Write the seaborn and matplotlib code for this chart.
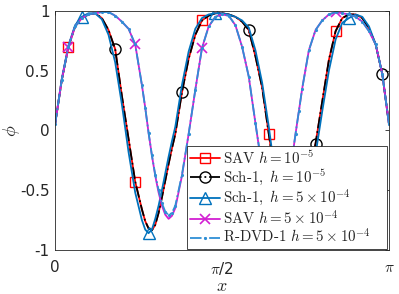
import numpy as np
import pandas as pd
import matplotlib
matplotlib.use("Agg")
import matplotlib.pyplot as plt
import seaborn as sns

# x positions in units of pi
x_over_pi = [0.00, 0.02, 0.04, 0.06, 0.08, 0.10, 0.12, 0.14, 0.16, 0.18, 0.20, 0.22, 0.24, 0.26,
             0.27, 0.28, 0.29, 0.30, 0.31, 0.32, 0.33, 0.34, 0.35, 0.36,
             0.38, 0.40, 0.42, 0.44, 0.46, 0.48, 0.50, 0.52, 0.54, 0.56, 0.58, 0.60, 0.62, 0.64,
             0.65, 0.66, 0.67, 0.68, 0.69, 0.70, 0.71, 0.72, 0.73, 0.74,
             0.76, 0.78, 0.80, 0.82, 0.84, 0.86, 0.88, 0.90, 0.92, 0.94, 0.96, 0.98, 1.00]

# SAV h=1e-5
phi_sav_fine = [0.05, 0.42, 0.70, 0.87, 0.94, 0.97, 0.98, 0.94, 0.84, 0.68, 0.29, -0.07, -0.43, -0.66,
                -0.76, -0.82, -0.835, -0.79, -0.69, -0.56, -0.42, -0.28, -0.15, -0.03,
                0.32, 0.60, 0.80, 0.92, 0.96, 0.98, 0.98, 0.97, 0.95, 0.91, 0.84, 0.62, 0.36, -0.03,
                -0.22, -0.40, -0.55, -0.68, -0.77, -0.82, -0.835, -0.80, -0.72, -0.62,
                -0.38, -0.11, 0.24, 0.59, 0.83, 0.94, 0.97, 0.97, 0.94, 0.85, 0.72, 0.47, 0.05]
# Sch-1 h=1e-5
phi_sch_fine = [0.05, 0.42, 0.70, 0.87, 0.94, 0.97, 0.98, 0.94, 0.84, 0.68, 0.29, -0.07, -0.43, -0.66,
                -0.76, -0.82, -0.835, -0.79, -0.69, -0.56, -0.42, -0.28, -0.15, -0.03,
                0.32, 0.60, 0.80, 0.92, 0.96, 0.98, 0.98, 0.97, 0.95, 0.91, 0.84, 0.62, 0.36, -0.03,
                -0.22, -0.40, -0.55, -0.68, -0.77, -0.82, -0.835, -0.80, -0.72, -0.62,
                -0.38, -0.11, 0.24, 0.59, 0.83, 0.94, 0.97, 0.97, 0.94, 0.85, 0.72, 0.47, 0.05]
# Sch-1 h=5e-4
phi_sch_coarse = [0.05, 0.43, 0.71, 0.88, 0.95, 0.98, 0.98, 0.93, 0.80, 0.57, 0.22, -0.18, -0.52, -0.75,
                  -0.83, -0.86, -0.83, -0.74, -0.63, -0.50, -0.36, -0.22, -0.09, 0.03,
                  0.38, 0.66, 0.85, 0.94, 0.97, 0.98, 0.98, 0.97, 0.95, 0.92, 0.86, 0.67, 0.40, 0.03,
                  -0.18, -0.38, -0.55, -0.68, -0.78, -0.84, -0.855, -0.84, -0.77, -0.68,
                  -0.45, -0.20, 0.16, 0.50, 0.76, 0.90, 0.94, 0.97, 0.95, 0.87, 0.72, 0.47, 0.05]
# SAV h=5e-4
phi_sav_coarse = [0.05, 0.42, 0.70, 0.87, 0.94, 0.97, 0.98, 0.99, 0.99, 0.96, 0.91, 0.85, 0.72, 0.38,
                  0.19, -0.02, -0.21, -0.38, -0.52, -0.63, -0.705, -0.74, -0.715, -0.65,
                  -0.38, -0.03, 0.34, 0.69, 0.87, 0.95, 0.97, 0.96, 0.88, 0.70, 0.45, 0.06, -0.32, -0.60,
                  -0.69, -0.735, -0.73, -0.68, -0.57, -0.42, -0.23, -0.03, 0.16, 0.35,
                  0.67, 0.84, 0.92, 0.97, 0.99, 0.98, 0.97, 0.95, 0.91, 0.83, 0.72, 0.47, 0.05]
# R-DVD-1 h=5e-4
phi_rdvd = [0.05, 0.42, 0.70, 0.87, 0.94, 0.97, 0.98, 0.99, 0.99, 0.96, 0.91, 0.85, 0.72, 0.38,
            0.19, -0.02, -0.21, -0.37, -0.50, -0.61, -0.68, -0.71, -0.69, -0.63,
            -0.37, -0.03, 0.34, 0.69, 0.87, 0.95, 0.97, 0.96, 0.88, 0.70, 0.45, 0.06, -0.31, -0.58,
            -0.67, -0.71, -0.70, -0.66, -0.55, -0.41, -0.23, -0.03, 0.16, 0.35,
            0.67, 0.84, 0.92, 0.97, 0.99, 0.98, 0.97, 0.95, 0.91, 0.83, 0.72, 0.47, 0.05]

# marker locations (units of pi)
marks_square = [0.04, 0.24, 0.44, 0.64, 0.84]
marks_circle = [0.18, 0.38, 0.58, 0.78, 0.98]
marks_triangle = [0.08, 0.28, 0.48, 0.68, 0.88]

labels = [r"$\mathrm{SAV}\ h=10^{-5}$",
          r"$\mathrm{Sch\text{-}1,}\ h=10^{-5}$",
          r"$\mathrm{Sch\text{-}1,}\ h=5\times10^{-4}$",
          r"$\mathrm{SAV}\ h=5\times10^{-4}$",
          r"$\mathrm{R\text{-}DVD\text{-}1}\ h=5\times10^{-4}$"]
xtick_labels = ["0", r"$\pi$/2", r"$\pi$"]
ytick_vals = [-1, -0.5, 0, 0.5, 1]
ytick_labels = ["-1", "-0.5", "0", "0.5", "1"]

sns.set_theme(style="white")
plt.rcParams["font.family"] = ["DejaVu Sans"]
plt.rcParams["mathtext.fontset"] = "cm"
plt.rcParams["xtick.direction"] = "in"
plt.rcParams["ytick.direction"] = "in"

xo = np.array(x_over_pi)
x = xo * np.pi
df = pd.DataFrame({"x": x,
                   "sav_fine": phi_sav_fine, "sch_fine": phi_sch_fine,
                   "sch_coarse": phi_sch_coarse, "sav_coarse": phi_sav_coarse,
                   "rdvd": phi_rdvd})


def idx(marks):
    return [int(np.argmin(np.abs(xo - m))) for m in marks]


fig = plt.figure(figsize=(3.99, 2.94), dpi=100)
ax = fig.add_axes([0.138, 0.150, 0.837, 0.813])

lw = 1.3
sns.lineplot(data=df, x="x", y="sav_fine", ax=ax, color="#FF0000", lw=lw,
             marker="s", markevery=idx(marks_square), ms=7, mfc="none", mec="#FF0000", mew=1.0,
             label=labels[0])
sns.lineplot(data=df, x="x", y="sch_fine", ax=ax, color="black", lw=lw, linestyle="-.",
             marker="o", markevery=idx(marks_circle), ms=8, mfc="none", mec="black", mew=1.0,
             label=labels[1])
sns.lineplot(data=df, x="x", y="sch_coarse", ax=ax, color="#0072BD", lw=lw,
             marker="^", markevery=idx(marks_triangle), ms=8.5, mfc="none", mec="#0072BD", mew=1.0,
             label=labels[2])
sns.lineplot(data=df, x="x", y="sav_coarse", ax=ax, color="#D21FD2", lw=lw,
             marker="x", markevery=idx(marks_square), ms=7.5, mec="#D21FD2", mew=1.2,
             label=labels[3])
sns.lineplot(data=df, x="x", y="rdvd", ax=ax, color="#2F8FD5", lw=lw, linestyle="-.",
             marker=".", ms=3, mec="#2F8FD5",
             label=labels[4])

ax.set_xlim(0, np.pi)
ax.set_ylim(-1, 1)
ax.set_xticks([0, np.pi / 2, np.pi])
ax.set_xticklabels(xtick_labels)
ax.set_yticks(ytick_vals)
ax.set_yticklabels(ytick_labels)
ax.tick_params(axis="both", labelsize=11, length=3, width=0.6, colors="#262626",
               top=True, right=True)
ax.tick_params(axis="x", pad=7)
ax.tick_params(axis="y", pad=4)
for s in ax.spines.values():
    s.set_color("#262626")
    s.set_linewidth(0.6)
ax.set_xlabel(r"$x$", fontsize=13, labelpad=0)
ax.set_ylabel(r"$\phi$", fontsize=13)
ax.yaxis.set_label_coords(-0.10, 0.5)

leg = ax.legend(loc="lower left", bbox_to_anchor=(0.395, 0.003, 0.600, 0.4), mode="expand",
                fontsize=10.8, frameon=True, fancybox=False, edgecolor="#262626",
                framealpha=1, borderpad=0.2, labelspacing=0.06, handlelength=2.0,
                handletextpad=0.2, borderaxespad=0.0)
leg.get_frame().set_linewidth(0.6)

fig.savefig("out.png", dpi=100)
